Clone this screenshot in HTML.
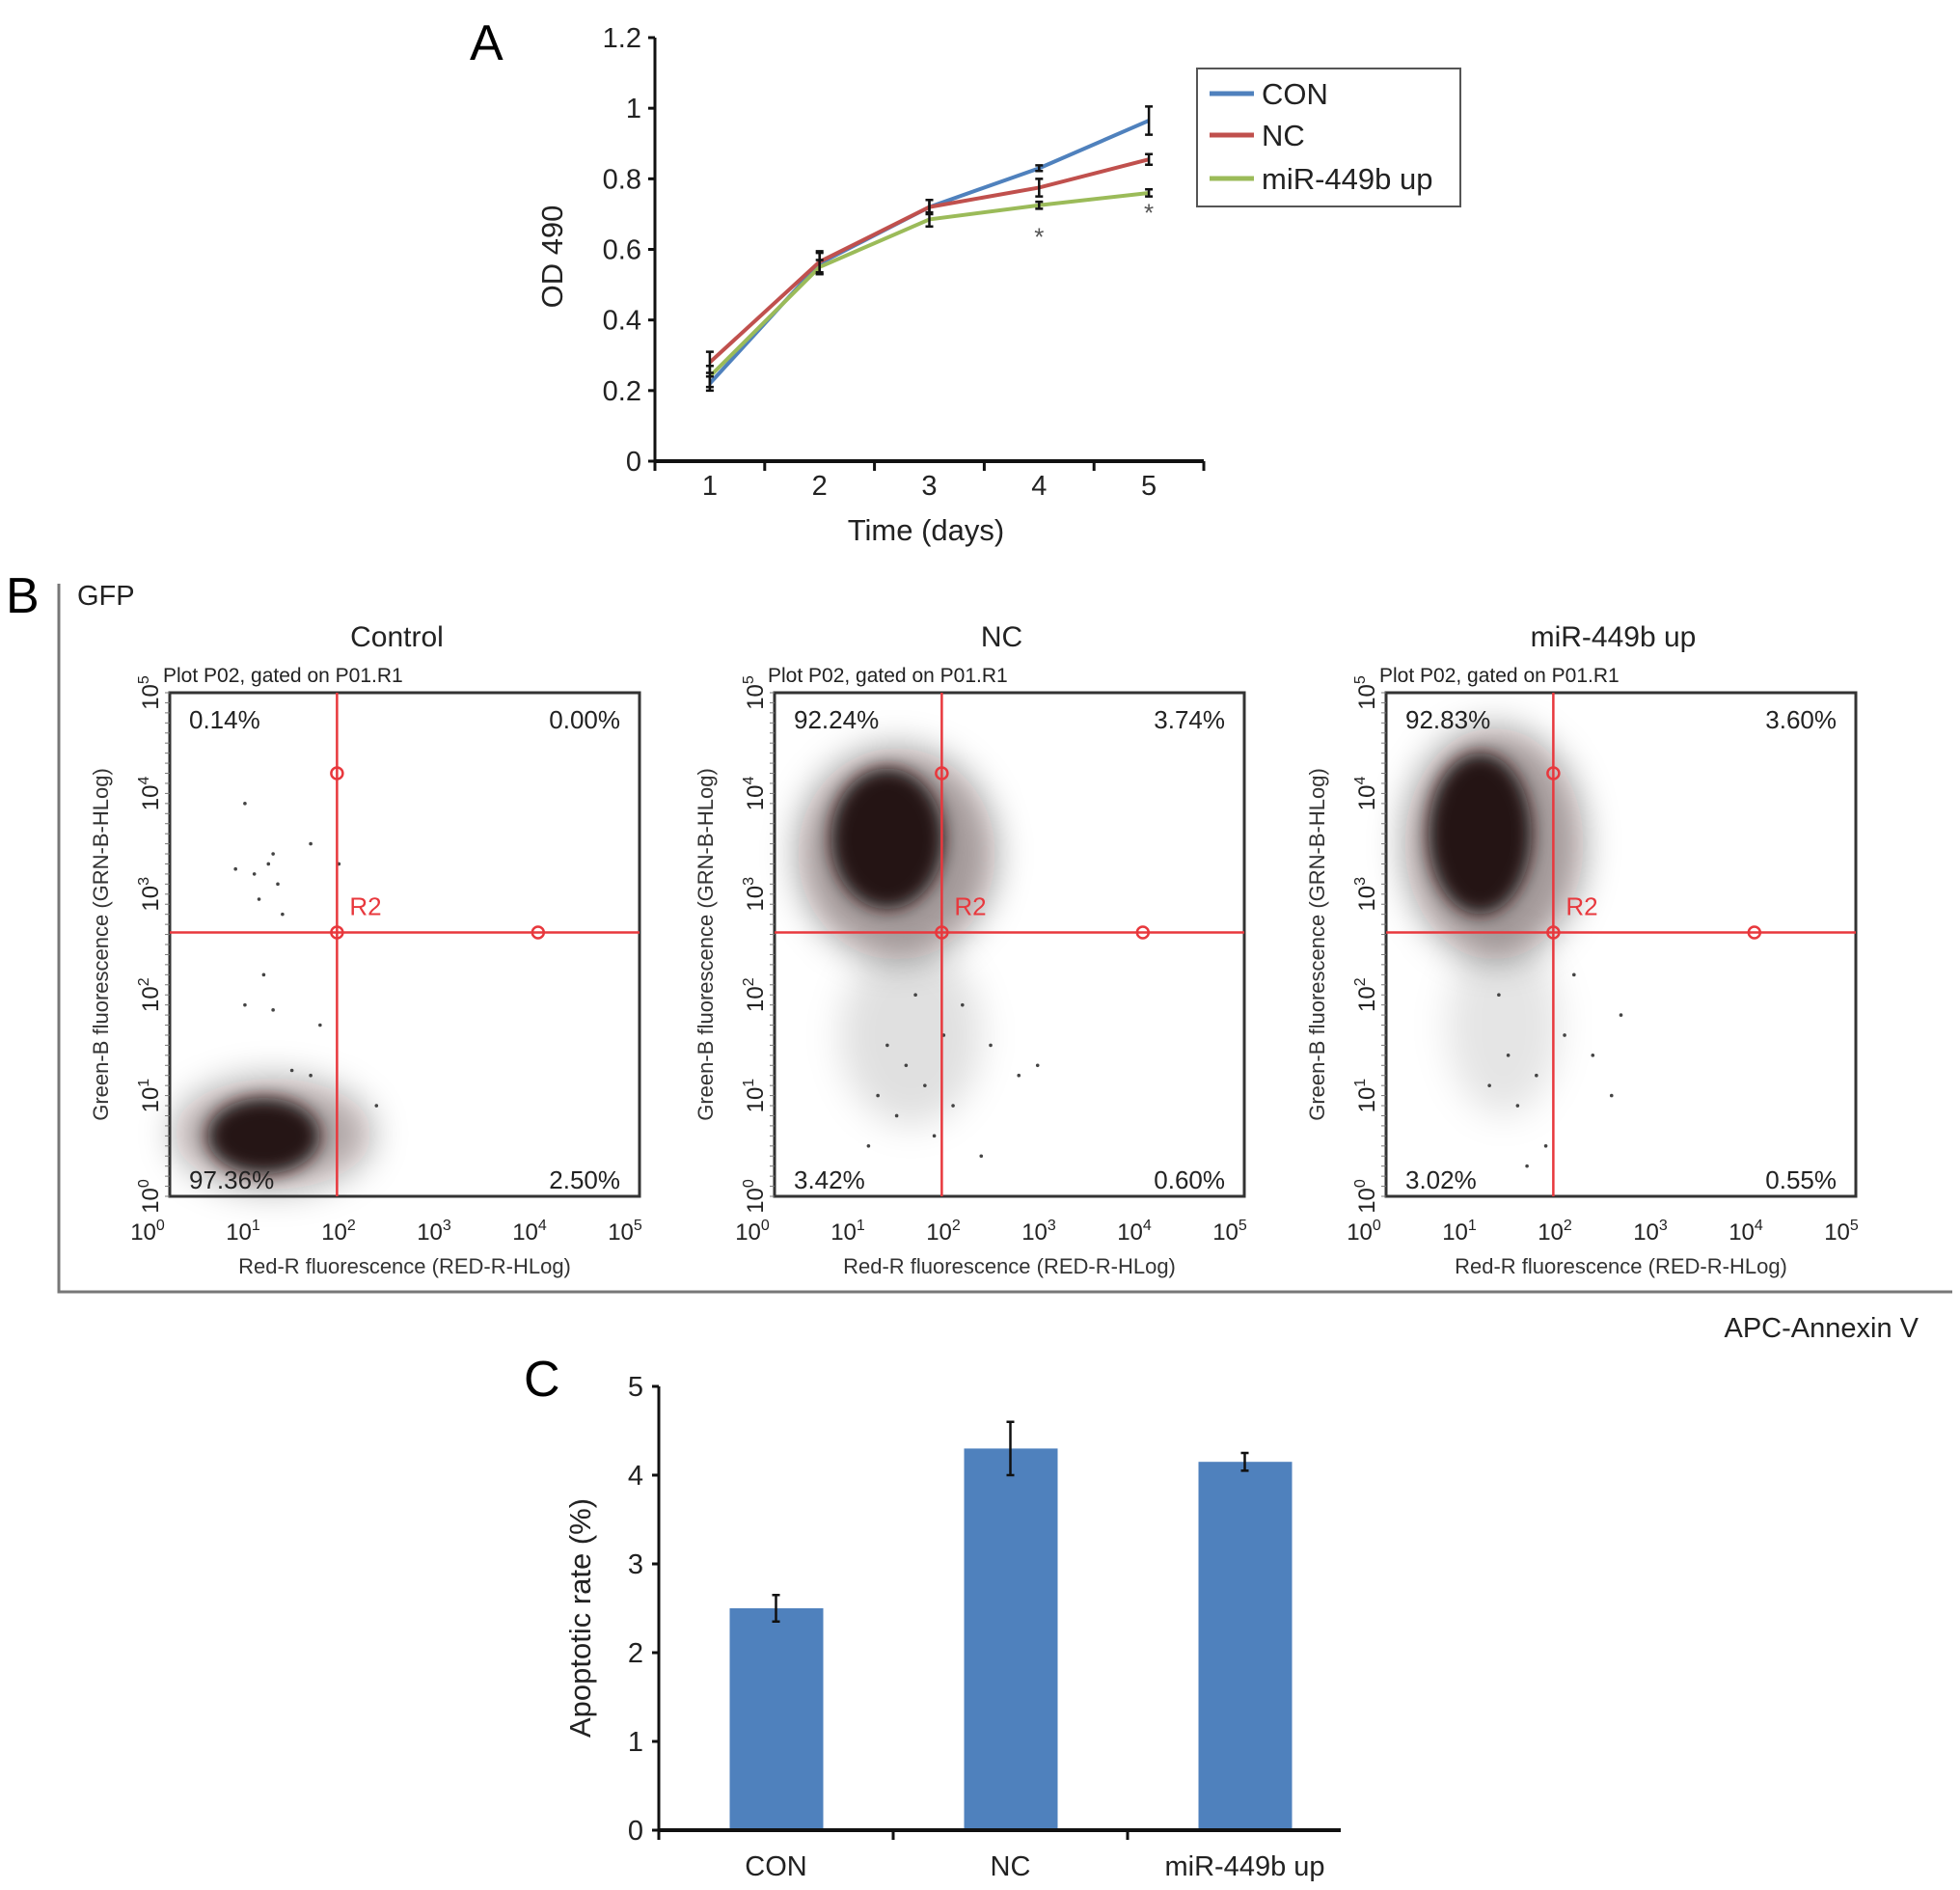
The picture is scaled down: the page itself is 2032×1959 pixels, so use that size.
<!DOCTYPE html>
<html><head><meta charset="utf-8">
<style>
html,body{margin:0;padding:0;background:#fff;}
svg{display:block;font-family:"Liberation Sans",Arial,sans-serif;}
.n{font-family:"Liberation Sans Narrow","Liberation Sans",sans-serif;}
</style></head>
<body>
<svg id="fig" width="2032" height="1959" viewBox="0 0 2032 1959" xmlns="http://www.w3.org/2000/svg">
<defs>
<filter id="blur8" x="-50%" y="-50%" width="200%" height="200%"><feGaussianBlur stdDeviation="9"/></filter>
<filter id="blur16" x="-50%" y="-50%" width="200%" height="200%"><feGaussianBlur stdDeviation="18"/></filter>
</defs>
</svg>
<script>
// ---------- Panel A data ----------
const daysA = [1,2,3,4,5];
const conVals = [0.22,0.56,0.72,0.83,0.965];
const conErr = [0.02,0.03,0.02,0.008,0.04];
const ncVals = [0.28,0.565,0.72,0.775,0.855];
const ncErr = [0.03,0.03,0.02,0.025,0.015];
const mirVals = [0.24,0.55,0.685,0.725,0.76];
const mirErr = [0.03,0.02,0.02,0.01,0.01];
const yTicksA = [0,0.2,0.4,0.6,0.8,1,1.2];
const yTickLabelsA = ["0","0.2","0.4","0.6","0.8","1","1.2"];
const sigDaysA = [4,5];
// ---------- Panel C data ----------
const catsC = ["CON","NC","miR-449b up"];
const valsC = [2.5,4.3,4.15];
const errC = [0.15,0.3,0.1];
const yTicksC = [0,1,2,3,4,5];
// ---------- Panel B data ----------
const flowTitles = ["Control","NC","miR-449b up"];
const pctUL = ["0.14%","92.24%","92.83%"];
const pctUR = ["0.00%","3.74%","3.60%"];
const pctLL = ["97.36%","3.42%","3.02%"];
const pctLR = ["2.50%","0.60%","0.55%"];
// clusters: [cxDecade, cyDecade, rxDecade, ryDecade, opacity]
const clustersCtrl = [[1.1,0.62,1.05,0.55,0.35],[1.0,0.6,0.6,0.38,0.95]];
const clustersNC = [[1.45,1.6,0.75,0.9,0.12],[1.3,3.4,1.05,1.05,0.4],[1.2,3.55,0.6,0.7,0.95]];
const clustersMir = [[1.25,1.7,0.6,0.9,0.10],[1.15,3.5,0.95,1.15,0.4],[1.0,3.6,0.55,0.8,0.95]];
const outliersCtrl = [[0.8,3.9],[1.1,3.4],[1.05,3.3],[0.7,3.25],[0.9,3.2],[1.15,3.1],[0.95,2.95],[1.2,2.8],[1.0,2.2],[0.8,1.9],[1.1,1.85],[1.6,1.7],[1.5,3.5],[1.8,3.3],[1.5,1.2],[1.3,1.25],[2.2,0.9]];
const outliersNC = [[1.2,1.5],[1.4,1.3],[1.6,1.1],[1.9,0.9],[1.0,0.5],[1.8,1.6],[2.3,1.5],[2.6,1.2],[1.3,0.8],[1.7,0.6],[2.8,1.3],[2.2,0.4],[1.5,2.0],[1.1,1.0],[2.0,1.9]];
const outliersMir = [[1.3,1.4],[1.6,1.2],[1.9,1.6],[1.4,0.9],[2.2,1.4],[2.5,1.8],[1.2,2.0],[1.7,0.5],[2.0,2.2],[1.1,1.1],[2.4,1.0],[1.5,0.3]];
const gateX = 1.78, gateY = 2.62, circUpper = 4.2, circRight = 3.92;
const xDecLabels = [0,1,2,3,4,5];

const NS="http://www.w3.org/2000/svg";
const svg=document.getElementById('fig');
function mk(tag,attrs,parent,text){const e=document.createElementNS(NS,tag);for(const k in attrs)e.setAttribute(k,attrs[k]);if(text!==undefined)e.textContent=text;(parent||svg).appendChild(e);return e;}

// ================= Panel A =================
const gA=mk('g',{});


const A={x0:679,x1:1248,y0:478,y1:39,vmax:1.2};
const ax=d=>A.x0+(d-0.5)*(A.x1-A.x0)/5;
const ay=v=>A.y0-(v/A.vmax)*(A.y0-A.y1);
let t=mk('text',{x:487,y:62,'font-size':52},gA,'A');

mk('line',{x1:A.x0,y1:A.y1,x2:A.x0,y2:A.y0+8,stroke:'#111','stroke-width':3},gA);
mk('line',{x1:A.x0,y1:A.y0,x2:A.x1,y2:A.y0,stroke:'#111','stroke-width':4},gA);
yTicksA.forEach((v,i)=>{
  mk('line',{x1:A.x0-7,y1:ay(v),x2:A.x0,y2:ay(v),stroke:'#111','stroke-width':3},gA);
  const l=mk('text',{x:A.x0-14,y:ay(v)+10,'font-size':29,'text-anchor':'end',class:'n',fill:'#222'},gA,yTickLabelsA[i]);
  
});
for(let i=0;i<=5;i++){const x=A.x0+i*(A.x1-A.x0)/5;mk('line',{x1:x,y1:A.y0,x2:x,y2:A.y0+10,stroke:'#111','stroke-width':3},gA);}
daysA.forEach(d=>{const l=mk('text',{x:ax(d),y:513,'font-size':29,'text-anchor':'middle',class:'n',fill:'#222'},gA,String(d));
  });
t=mk('text',{x:960,y:560,'font-size':31,'text-anchor':'middle',class:'n',fill:'#222'},gA,'Time (days)');

t=mk('text',{x:0,y:0,'font-size':31,'text-anchor':'middle',fill:'#222',transform:'translate(583,266) rotate(-90)'},gA,'OD 490');

const seriesA=[[conVals,conErr,'#4f81bd','con'],[ncVals,ncErr,'#c0504d','nc'],[mirVals,mirErr,'#9bbb59','mir-449b-up']];
seriesA.forEach(([vals,err,col,nm])=>{
  const p=mk('polyline',{points:vals.map((v,i)=>ax(daysA[i])+','+ay(v)).join(' '),fill:'none',stroke:col,'stroke-width':4},gA);
  
});
seriesA.forEach(([vals,err,col,nm])=>{
  vals.forEach((v,i)=>{const x=ax(daysA[i]);
    const e=mk('path',{d:`M${x},${ay(v+err[i])}V${ay(v-err[i])}M${x-4},${ay(v+err[i])}h8M${x-4},${ay(v-err[i])}h8`,stroke:'#111','stroke-width':2.5,fill:'none'},gA);
    });
});
sigDaysA.forEach(d=>{const i=daysA.indexOf(d);
  const s=mk('text',{x:ax(d),y:ay(mirVals[i]-mirErr[i])+(d===4?38:26),'font-size':26,'text-anchor':'middle',fill:'#555'},gA,'*');
  });
const lg=mk('g',{},gA);

mk('rect',{x:1241,y:71,width:273,height:143,fill:'#fff',stroke:'#555','stroke-width':2},lg);
[['CON','#4f81bd',97],['NC','#c0504d',140],['miR-449b up','#9bbb59',185]].forEach(([n,c,y])=>{
  const g=mk('g',{},lg);
  mk('line',{x1:1254,y1:y,x2:1300,y2:y,stroke:c,'stroke-width':5},g);
  mk('text',{x:1308,y:y+11,'font-size':31,class:'n',fill:'#222'},g,n);
});

// ================= Panel B =================
const gB=mk('g',{});


t=mk('text',{x:6,y:635,'font-size':52},gB,'B');
mk('path',{d:'M61,605V1339H2024',fill:'none',stroke:'#777','stroke-width':3},gB);
t=mk('text',{x:80,y:627,'font-size':29,fill:'#222'},gB,'GFP');
t=mk('text',{x:1989,y:1386,'font-size':29,'text-anchor':'end',fill:'#222'},gB,'APC-Annexin V');
const lefts=[176,803,1437];
const clusterSets=[clustersCtrl,clustersNC,clustersMir];
const outlierSets=[outliersCtrl,outliersNC,outliersMir];
const T=718,Bt=1240,W=487;
lefts.forEach((L,pi)=>{
  const g=mk('g',{},gB);
  
  const sx=d=>L+d/5*W, sy=d=>Bt-d/5*(Bt-T);
  let tt=mk('text',{x:L+W/2-8,y:670,'font-size':30,'text-anchor':'middle',fill:'#222'},g,flowTitles[pi]);
  
  mk('text',{x:L-7,y:707,'font-size':21,fill:'#222'},g,'Plot P02, gated on P01.R1');
  const cg=mk('g',{},g);
  
  clusterSets[pi].forEach(c=>{
    mk('ellipse',{cx:sx(c[0]),cy:sy(c[1]),rx:c[2]/5*W,ry:c[3]/5*(Bt-T),fill:'#1a0a0a','fill-opacity':c[4],filter:c[4]>0.5?'url(#blur8)':'url(#blur16)'},cg);
  });
  outlierSets[pi].forEach(o=>{const d=mk('circle',{cx:sx(o[0]),cy:sy(o[1]),r:1.8,fill:'#444'},cg);
    });
  const fr=mk('rect',{x:L,y:T,width:W,height:Bt-T,fill:'none',stroke:'#333','stroke-width':3},g);
  
  const gx=sx(gateX),gy=sy(gateY);
  const gate=mk('path',{d:`M${gx},${T}V${Bt}M${L},${gy}H${L+W}`,stroke:'#e8383d','stroke-width':2.5,fill:'none'},g);
  
  [[gx,sy(circUpper)],[gx,gy],[sx(circRight),gy]].forEach(([x,y])=>{const c=mk('circle',{cx:x,cy:y,r:6,fill:'none',stroke:'#e8383d','stroke-width':2.5},g);
    });
  mk('text',{x:gx+13,y:gy-18,'font-size':26,fill:'#e8383d'},g,'R2');
  [[pctUL,L+20,T+37,'start'],[pctUR,L+W-20,T+37,'end'],[pctLL,L+20,Bt-8,'start'],[pctLR,L+W-20,Bt-8,'end']].forEach(([arr,x,y,a])=>{
    const p=mk('text',{x:x,y:y,'font-size':26,'text-anchor':a,fill:'#222'},g,arr[pi]);
    });
  xDecLabels.forEach(d=>{
    const x=L-23+d*99;
    const l=mk('text',{x:x,y:1285,'font-size':24,'text-anchor':'middle',fill:'#222'},g);
    
    l.appendChild(document.createTextNode('10'));
    const s=mk('tspan',{dy:-10,'font-size':16},l,String(d));
    const yy=sy(d);
    const ly=mk('text',{x:0,y:0,'font-size':24,'text-anchor':'middle',fill:'#222',transform:`translate(${L-12},${yy}) rotate(-90)`},g);
    
    ly.appendChild(document.createTextNode('10'));
    mk('tspan',{dy:-10,'font-size':16},ly,String(d));
  });
  for(let i=0;i<=50;i++){mk('line',{x1:L,y1:T+i*(Bt-T)/50,x2:L-5,y2:T+i*(Bt-T)/50,stroke:'#777','stroke-width':1},g);}
  tt=mk('text',{x:L+W/2,y:1320,'font-size':22,'text-anchor':'middle',fill:'#333'},g,'Red-R fluorescence (RED-R-HLog)');
  
  tt=mk('text',{x:0,y:0,'font-size':22,'text-anchor':'middle',fill:'#333',transform:`translate(${L-64},${(T+Bt)/2}) rotate(-90)`},g,'Green-B fluorescence (GRN-B-HLog)');
  
});

// ================= Panel C =================
const gC=mk('g',{});


const C={x0:683,y0:1897,y1:1437,vmax:5,cw:243,x1:1390};
const cy=v=>C.y0-v/C.vmax*(C.y0-C.y1);
const cx=i=>C.x0+(i+0.5)*C.cw;
t=mk('text',{x:543,y:1447,'font-size':52},gC,'C');
valsC.forEach((v,i)=>{
  const b=mk('rect',{x:cx(i)-48,y:cy(v),width:97,height:C.y0-cy(v),fill:'#4f81bd'},gC);
  
  const x=cx(i);
  const e=mk('path',{d:`M${x},${cy(v+errC[i])}V${cy(v-errC[i])}M${x-4},${cy(v+errC[i])}h8M${x-4},${cy(v-errC[i])}h8`,stroke:'#111','stroke-width':2.5,fill:'none'},gC);
  
  const l=mk('text',{x:x,y:1944,'font-size':29,'text-anchor':'middle',class:'n',fill:'#222'},gC,catsC[i]);
  
});
mk('line',{x1:C.x0,y1:C.y1,x2:C.x0,y2:C.y0+10,stroke:'#111','stroke-width':3},gC);
mk('line',{x1:C.x0,y1:C.y0,x2:C.x1,y2:C.y0,stroke:'#111','stroke-width':4},gC);
for(let i=1;i<3;i++){const x=C.x0+i*C.cw;mk('line',{x1:x,y1:C.y0,x2:x,y2:C.y0+10,stroke:'#111','stroke-width':3},gC);}
yTicksC.forEach(v=>{mk('line',{x1:C.x0-7,y1:cy(v),x2:C.x0,y2:cy(v),stroke:'#111','stroke-width':3},gC);
  const l=mk('text',{x:C.x0-16,y:cy(v)+10,'font-size':29,'text-anchor':'end',class:'n',fill:'#222'},gC,String(v));
  });
t=mk('text',{x:0,y:0,'font-size':31,'text-anchor':'middle',fill:'#222',transform:'translate(612,1677) rotate(-90)'},gC,'Apoptotic rate (%)');

</script>
</body></html>
